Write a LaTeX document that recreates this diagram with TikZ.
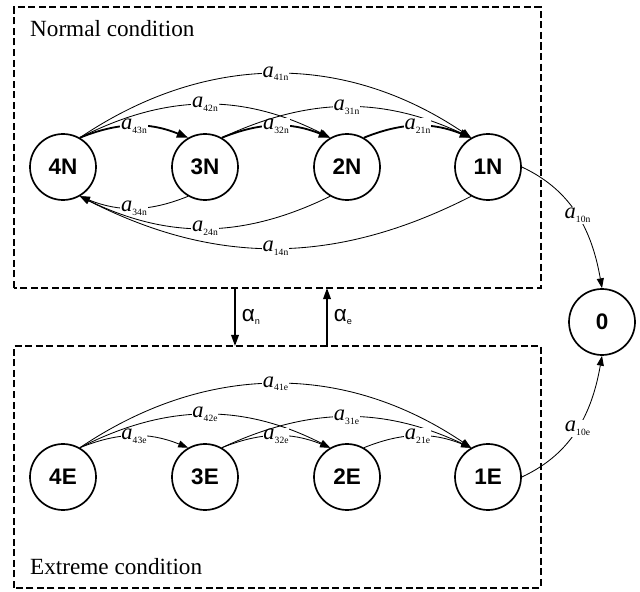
\documentclass[tikz,border=0pt]{standalone}
\usepackage{fontspec}
\setmainfont{Liberation Serif}
\newfontfamily\statefont{Liberation Sans}
\usetikzlibrary{arrows.meta}

% transition rate a_{ij} and switching rate alpha
\newcommand{\rate}[1]{{\fontsize{16}{16}\selectfont\itshape a}\raisebox{-0.6ex}{\fontsize{6.8}{7}\selectfont #1}}
\newcommand{\switch}[1]{{\statefont\fontsize{16}{16}\selectfont α}\raisebox{-0.5ex}{\statefont\fontsize{6.5}{7}\selectfont #1}}

\begin{document}
\begin{tikzpicture}[
  state/.style={circle,draw,line width=1.2pt,minimum size=1.65cm,inner sep=0pt,
                font=\statefont\fontsize{16}{16}\selectfont\bfseries},
  region/.style={draw,line width=1.4pt,dash pattern=on 5pt off 2.5pt},
  flow/.style={-{Triangle[length=7pt,width=5pt]},line width=0.6pt},
  mainflow/.style={-{Triangle[length=8pt,width=6pt]},line width=1.3pt},
  change/.style={-{Triangle[length=8pt,width=5.5pt]},line width=1.2pt},
  lab/.style={fill=white,inner sep=0.6pt}]
\useasboundingbox (0,0) rectangle (16,14.775);

% the two regions
\draw[region] (0.35,7.575) rectangle (13.525,14.6);
\draw[region] (0.35,0.08) rectangle (13.525,6.125);
\node[anchor=west,font=\fontsize{16.5}{18}\selectfont] (normal) at (0.63,14.07) {Normal condition};
\node[anchor=west,font=\fontsize{16.5}{18}\selectfont] (extreme) at (0.63,0.6) {Extreme condition};

% states
\node[state] (n4) at (1.575,10.6) {4N};
\node[state] (n3) at (5.125,10.6) {3N};
\node[state] (n2) at (8.675,10.6) {2N};
\node[state] (n1) at (12.2,10.6) {1N};
\node[state] (e4) at (1.575,2.85) {4E};
\node[state] (e3) at (5.125,2.85) {3E};
\node[state] (e2) at (8.675,2.85) {2E};
\node[state] (e1) at (12.2,2.85) {1E};
\node[state] (n0) at (15.05,6.725) {0};

% normal condition
\draw[mainflow] (n4.60) to[bend left=22] node[lab] {\rate{43n}} (n3.120);
\draw[flow] (n4.60) to[bend left=27] node[lab] {\rate{42n}} (n2.120);
\draw[flow] (n4.60) to[bend left=34] node[lab] {\rate{41n}} (n1.120);
\draw[mainflow] (n3.60) to[bend left=22] node[lab] {\rate{32n}} (n2.120);
\draw[flow] (n3.60) to[bend left=25] node[lab] {\rate{31n}} (n1.120);
\draw[mainflow] (n2.60) to[bend left=22] node[lab] {\rate{21n}} (n1.120);
\draw[flow] (n3.-120) to[bend left=22] node[lab] {\rate{34n}} (n4.-60);
\draw[flow] (n2.-120) to[bend left=26] node[lab] {\rate{24n}} (n4.-60);
\draw[flow] (n1.-120) to[bend left=27] node[lab] {\rate{14n}} (n4.-60);
\draw[flow] (n1.east) to[out=-25,in=100] node[lab] {\rate{10n}} (n0.north);

% extreme condition
\draw[flow] (e4.60) to[bend left=22] node[lab] {\rate{43e}} (e3.120);
\draw[flow] (e4.60) to[bend left=27] node[lab] {\rate{42e}} (e2.120);
\draw[flow] (e4.60) to[bend left=34] node[lab] {\rate{41e}} (e1.120);
\draw[flow] (e3.60) to[bend left=22] node[lab] {\rate{32e}} (e2.120);
\draw[flow] (e3.60) to[bend left=25] node[lab] {\rate{31e}} (e1.120);
\draw[flow] (e2.60) to[bend left=22] node[lab] {\rate{21e}} (e1.120);
\draw[flow] (e1.east) to[out=25,in=-100] node[lab] {\rate{10e}} (n0.south);

% switching between conditions
\coordinate (sn1) at (5.875,7.575);
\coordinate (sn2) at (5.875,6.125);
\coordinate (se1) at (8.175,6.125);
\coordinate (se2) at (8.175,7.575);
\draw[change] (sn1) -- node[right,xshift=1pt] {\switch{n}} (sn2);
\draw[change] (se1) -- node[right,xshift=1pt] {\switch{e}} (se2);
\end{tikzpicture}
\end{document}
